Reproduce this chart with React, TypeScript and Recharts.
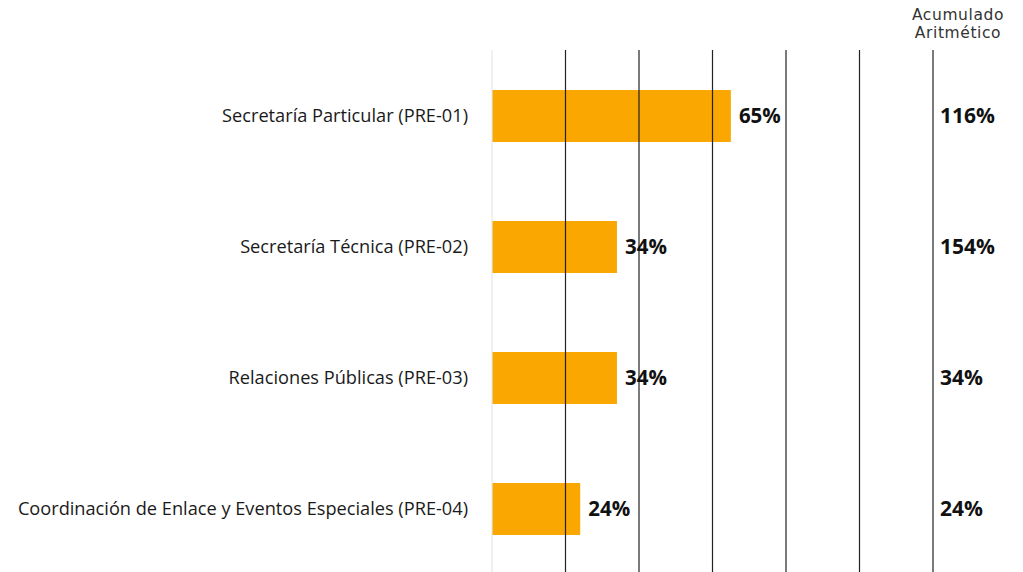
import { BarChart, Bar, XAxis, YAxis, ReferenceLine, LabelList, Label } from 'recharts';

const areas = [
  'Secretaría Particular (PRE-01)',
  'Secretaría Técnica (PRE-02)',
  'Relaciones Públicas (PRE-03)',
  'Coordinación de Enlace y Eventos Especiales (PRE-04)',
];
const avance = [65, 34, 34, 24];
const acumulado = [116, 154, 34, 24];
const xTicks = [0, 20, 40, 60, 80, 100, 120];

const data = areas.map((name, i) => ({ name, avance: avance[i], acumulado: acumulado[i] }));

const BAR_COLOR = '#FAA702';
const LABEL_FONT = '"Open Sans", "Noto Sans", sans-serif';

function CategoryTick(props: any) {
  const { x, y, payload } = props;
  return (
    <text x={x - 16} y={y} dy={6} textAnchor="end" fontFamily={LABEL_FONT} fontSize={18.2} fill="#1a1a1a">
      {payload.value}
    </text>
  );
}

function AcumuladoLabel(props: any) {
  const { x, y, width, height, value, index } = props;
  // pixels per percent taken from the bar itself, so the column sits on the 120 line
  const perUnit = width / value;
  const colX = x + perUnit * 120 + 7;
  return (
    <text x={colX} y={y + height / 2} dy={7} fontFamily={LABEL_FONT} fontWeight={700} fontSize={21} fill="#111">
      {acumulado[index]}%
    </text>
  );
}

function HeaderLabel(props: any) {
  const { viewBox } = props;
  const cx = viewBox.x + 25;
  return (
    <g fontFamily='"DejaVu Sans", sans-serif' fontSize={15.5} fill="#333" textAnchor="middle" letterSpacing={0.6}>
      <text x={cx} y={viewBox.y - 30}>Acumulado</text>
      <text x={cx} y={viewBox.y - 12}>Aritmético</text>
    </g>
  );
}

export default function App() {
  return (
    <div style={{ position: 'absolute', left: 0, top: 0, background: '#fff' }}>
      <BarChart
        width={1023}
        height={574}
        data={data}
        layout="vertical"
        margin={{ top: 50, right: 90, left: 0, bottom: 0 }}
        barCategoryGap={0}
      >
        <XAxis type="number" domain={[0, 120]} ticks={xTicks} hide />
        <YAxis
          type="category"
          dataKey="name"
          width={492}
          axisLine={false}
          tickLine={false}
          tick={<CategoryTick />}
        />
        {xTicks.map((t) => (
          <ReferenceLine
            key={t}
            x={t}
            stroke={t === 0 ? '#e6e6e6' : '#222'}
            strokeWidth={1.2}
            ifOverflow="extendDomain"
          >
            {t === 120 ? <Label content={<HeaderLabel />} /> : null}
          </ReferenceLine>
        ))}
        <Bar dataKey="avance" fill={BAR_COLOR} barSize={52} isAnimationActive={false}>
          <LabelList
            dataKey="avance"
            position="right"
            offset={8}
            formatter={(v: any) => `${v}%`}
            style={{ fontFamily: LABEL_FONT, fontWeight: 700, fontSize: 20.5, fill: '#111' }}
          />
          <LabelList dataKey="avance" content={<AcumuladoLabel />} />
        </Bar>
      </BarChart>
    </div>
  );
}
